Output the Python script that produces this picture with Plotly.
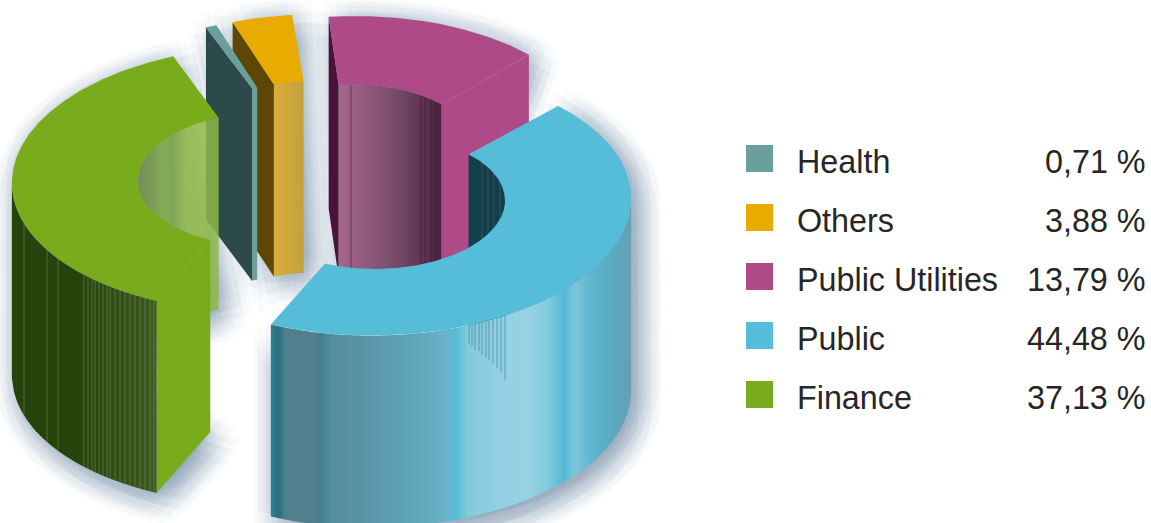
import numpy as np
import plotly.graph_objects as go

# Portfolio split by sector, in percent
categories = ["Health", "Others", "Public Utilities", "Public", "Finance"]
shares = [0.71, 3.88, 13.79, 44.48, 37.13]
swatches = ["#6a9f9b", "#eaab00", "#ae4a87", "#55bdd8", "#79ac1c"]

# Ring projection for every exploded slice: centre, radii, hole ratio and shear
WIDTH, HEIGHT = 1151, 523
START_ANGLE = 112.7
DEPTH = 192
rings = {
    "Health": dict(cx=298, cy=150, rx=250, ry=133, hole=0.5, shear=0.036),
    "Others": dict(cx=315, cy=147, rx=250, ry=133, hole=0.5, shear=0.03),
    "Public Utilities": dict(cx=349, cy=157, rx=254, ry=141, hole=0.515, shear=0.05),
    "Public": dict(cx=379, cy=202.5, rx=252, ry=133, hole=0.5, shear=0.06),
    "Finance": dict(cx=264, cy=179, rx=252, ry=133, hole=0.5, shear=0.054),
}

# Face colours of the slices
cut_faces = {
    "Health": ("#2c4a4c", "#2c4a4c"),
    "Others": ("#5c4704", "#5c4704"),
    "Public Utilities": ("#4a1337", "#ae4a87"),
    "Public": ("#55bdd8", "#55bdd8"),
    "Finance": ("#79ac1c", "#79ac1c"),
}

# Shading ramps across the curved walls, keyed by horizontal position
outer_ramps = {
    "Public": [(272, "#2f7f90"), (279, "#2b6c7c"), (285, "#4f7f8e"), (315, "#537f8e"),
               (320, "#3f7f8f"), (332, "#568e9e"), (378, "#5a97aa"), (381, "#5b9db1"),
               (420, "#61a6ba"), (445, "#69b3c9"), (456, "#55bcd7"), (468, "#86c9dc"),
               (500, "#93d0e3"), (530, "#96d2e4"), (548, "#80cade"), (564, "#53b9d5"),
               (575, "#80c5d8"), (590, "#5db7d1"), (612, "#5aa9c1"), (633, "#679fb1")],
    "Finance": [(12, "#27430c"), (84, "#27430c"), (120, "#304f14"), (157, "#3d5a20")],
}
inner_ramps = {
    "Health": [(250, "#6ca09c"), (258, "#6ca09c")],
    "Others": [(274, "#d9ad39"), (304, "#c39f3e")],
    "Public Utilities": [(338, "#a8678f"), (351, "#9a6085"), (390, "#7c4f6e"),
                         (410, "#6a3f5d"), (428, "#5a2f4d"), (440, "#4a2440")],
    "Public": [(468, "#123f4c"), (506, "#123f4c")],
    "Finance": [(138, "#6e8c4b"), (150, "#789b46"), (165, "#87af46"), (172, "#7fa644"),
                (185, "#96be4b"), (205, "#96bc48"), (207, "#8fb749"), (220, "#8fb749")],
}
inner_alpha = {"Finance": 0.85}

# Fine vertical streaks on the walls
finance_streaks = [24, 47, 58, 84, 88, 92, 95, 99, 103, 107, 110, 115, 120, 125, 130, 135,
                   140, 145, 150, 154]
utility_streaks = [351, 421, 425, 431, 436]
public_hole_streaks = [482, 488, 494, 500]
public_short_streaks = [469, 472, 475, 479, 482, 486, 489, 493, 497, 501, 505]
public_short_lengths = [19, 22, 26, 28, 32, 36, 40, 44, 50, 56, 64]

# Blur kernel of the soft shadow: ring radius and number of copies on it
shadow_kernel = [(0, 1), (6, 6), (12, 8), (18, 10), (24, 12)]
SHADOW_OFFSET = (7, 7)
SHADOW_FILL = "rgba(100,115,145,0.03)"


def arc(ring, deg, radius=1.0):
    t = np.radians(deg)
    lift = ring["ry"] * radius * np.sin(t)
    return ring["cx"] + ring["rx"] * radius * np.cos(t) + ring["shear"] * lift, ring["cy"] - lift


def hex_rgb(code):
    return tuple(int(code[i:i + 2], 16) for i in (1, 3, 5))


def ramp_colour(stops, x, alpha=1.0):
    xs = [s[0] for s in stops]
    rgb = [np.interp(x, xs, [hex_rgb(s[1])[k] for s in stops]) for k in range(3)]
    return f"rgba({rgb[0]:.0f},{rgb[1]:.0f},{rgb[2]:.0f},{alpha})"


def polygon(fig, xs, ys, colour):
    fig.add_trace(go.Scatter(x=list(xs), y=list(ys), mode="lines", fill="toself",
                             fillcolor=colour, line=dict(width=0), hoverinfo="skip",
                             showlegend=False))


def curve_profile(ring, lo, hi, radius, facing):
    """Monotonic top edge of the wall part turned towards the viewer."""
    deg = np.linspace(lo, hi, 2400)
    keep = np.sin(np.radians(deg)) * facing > 0
    if keep.sum() < 2:
        return None
    x, y = arc(ring, deg[keep], radius)
    a, b = sorted((int(np.argmin(x)), int(np.argmax(x))))
    x, y = x[a:b + 1], y[a:b + 1]
    order = np.argsort(x)
    return x[order], y[order]


def wall(fig, profile, stops, alpha=1.0, step=2):
    x, y = profile
    grid = np.arange(np.ceil(x[0]), np.floor(x[-1]) + 1, step)
    grid = np.unique(np.r_[x[0], grid, x[-1]])
    tops = np.interp(grid, x, y)
    for i in range(len(grid) - 1):
        polygon(fig,
                [grid[i], grid[i + 1], grid[i + 1], grid[i], grid[i]],
                [tops[i], tops[i + 1], tops[i + 1] + DEPTH, tops[i] + DEPTH, tops[i]],
                ramp_colour(stops, (grid[i] + grid[i + 1]) / 2, alpha))


def streaks(fig, profile, positions, colour, lengths=None):
    x, y = profile
    xs, ys = [], []
    for i, p in enumerate(positions):
        top = float(np.interp(p, x, y))
        xs += [p, p, None]
        ys += [top, top + (lengths[i] if lengths else DEPTH), None]
    fig.add_trace(go.Scatter(x=xs, y=ys, mode="lines", line=dict(color=colour, width=1),
                             hoverinfo="skip", showlegend=False))


# Angular span of every slice, running clockwise from the start angle
spans = {}
upper = START_ANGLE
for name, share in zip(categories, shares):
    spans[name] = (upper - share * 3.6, upper)
    upper -= share * 3.6
tops = dict(zip(categories, swatches))

fig = go.Figure()

# Soft shadow behind the slices, blurred by stacking displaced translucent copies
for name in categories:
    ring, (lo, hi) = rings[name], spans[name]
    deg = np.linspace(lo, hi, 80)
    ox, oy = arc(ring, deg)
    ix, iy = arc(ring, deg[::-1], ring["hole"])
    sx = np.r_[ox, ix, ox[0]]
    sy = np.r_[oy + np.where(np.sin(np.radians(deg)) < 0, DEPTH, 0), iy + DEPTH, oy[0]]
    for radius, copies in shadow_kernel:
        for k in range(copies):
            turn = 2 * np.pi * k / copies
            polygon(fig, sx + SHADOW_OFFSET[0] + radius * np.cos(turn),
                    sy + SHADOW_OFFSET[1] + radius * np.sin(turn), SHADOW_FILL)

# Back slices first, so the two large slices overlap them
for name in ["Public Utilities", "Others", "Health", "Finance", "Public"]:
    ring, (lo, hi) = rings[name], spans[name]
    hole = ring["hole"]

    inner = curve_profile(ring, lo, hi, hole, 1)
    if inner is not None:
        wall(fig, inner, inner_ramps[name], inner_alpha.get(name, 1.0))
    if name == "Public Utilities":
        streaks(fig, inner, utility_streaks, "rgba(60,20,50,0.55)")
    if name == "Public":
        streaks(fig, inner, public_hole_streaks, "rgba(90,90,115,0.6)")

    # Radial cut faces that turn towards the viewer
    hi_colour, lo_colour = cut_faces[name]
    for deg, colour, shown in ((hi, hi_colour, np.cos(np.radians(hi)) < 0),
                               (lo, lo_colour, np.cos(np.radians(lo)) > 0)):
        if shown:
            ox, oy = arc(ring, deg)
            ix, iy = arc(ring, deg, hole)
            polygon(fig, [ox, ix, ix, ox, ox],
                    [oy, iy, iy + DEPTH, oy + DEPTH, oy], colour)

    outer = curve_profile(ring, lo, hi, 1.0, -1)
    if outer is not None:
        wall(fig, outer, outer_ramps[name])
    if name == "Finance":
        streaks(fig, outer, finance_streaks, "rgba(130,155,105,0.5)")
    if name == "Public":
        streaks(fig, outer, public_short_streaks, "rgba(60,135,155,0.7)", public_short_lengths)

    # Flat top of the slice
    deg = np.linspace(lo, hi, 240)
    ox, oy = arc(ring, deg)
    ix, iy = arc(ring, deg[::-1], hole)
    polygon(fig, np.r_[ox, ix, ox[0]], np.r_[oy, iy, oy[0]], tops[name])

    if name in ("Public Utilities", "Finance"):
        edge = lo if name == "Public Utilities" else hi
        ox, oy = arc(ring, edge)
        ix, iy = arc(ring, edge, hole)
        fig.add_trace(go.Scatter(x=[ox, ix], y=[oy, iy], mode="lines",
                                 line=dict(color="rgba(255,255,255,0.08)", width=0.8),
                                 hoverinfo="skip", showlegend=False))

# Legend table: swatch, name and share
ROW_TOP, ROW_STEP, SWATCH = 158.5, 59, 27
rows = [ROW_TOP + i * ROW_STEP for i in range(len(categories))]
fig.add_trace(go.Scatter(x=[759.5] * len(rows), y=rows, mode="markers",
                         marker=dict(symbol="square", size=SWATCH, color=swatches,
                                     line=dict(width=0)),
                         hoverinfo="skip", showlegend=False))
label_font = dict(family="Liberation Sans", size=32.3, color="#262626")
for name, share, y in zip(categories, shares, rows):
    fig.add_annotation(x=795, y=y + 3.5, text=name, showarrow=False, xanchor="left",
                       yanchor="middle", font=label_font)
    fig.add_annotation(x=1148, y=y + 3.5, text=f"{share:.2f} %".replace(".", ","),
                       showarrow=False, xanchor="right", yanchor="middle", font=label_font)

fig.update_layout(
    width=WIDTH, height=HEIGHT, autosize=False,
    margin=dict(l=0, r=0, t=0, b=0), paper_bgcolor="white", plot_bgcolor="white",
    xaxis=dict(range=[0, WIDTH], visible=False, fixedrange=True),
    yaxis=dict(range=[HEIGHT, 0], visible=False, fixedrange=True),
    showlegend=False,
)
fig.write_html("out.html", config={"displayModeBar": False})
